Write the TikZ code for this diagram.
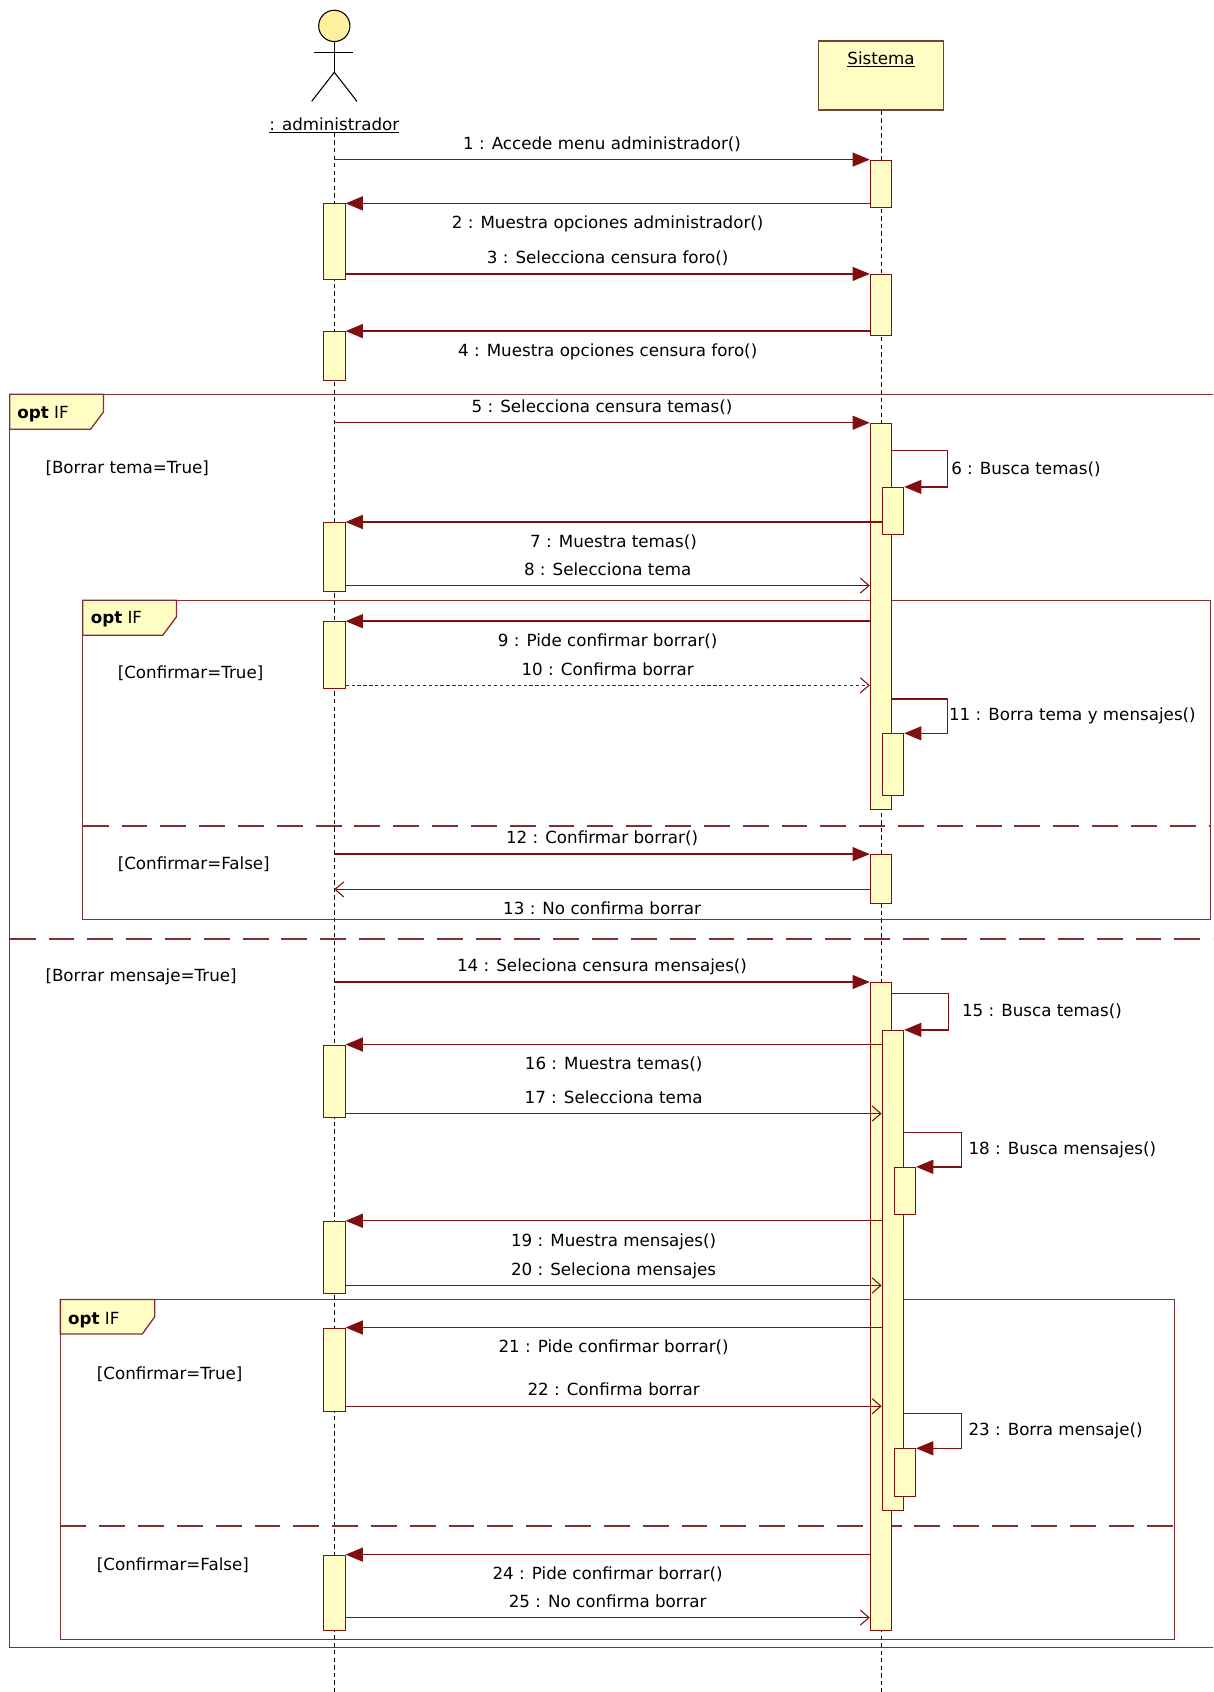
\documentclass[tikz,border=0pt]{standalone}
\usepackage{fontspec}
\setmainfont{DejaVu Sans}
\usetikzlibrary{arrows.meta}
\definecolor{umlred}{RGB}{128,16,16}
\definecolor{framered}{RGB}{128,48,48}
\definecolor{actfill}{RGB}{255,252,196}
\definecolor{headfill}{RGB}{255,240,160}
\definecolor{boxline}{RGB}{110,70,50}

\begin{document}
\begin{tikzpicture}[x=1pt, y=-1pt,
		every node/.style={font=\fontsize{15.5}{18}\selectfont, inner sep=0pt, text=black},
		lifeline/.style={black, line width=0.9pt, dash pattern=on 4pt off 3pt},
		actbar/.style={rectangle, draw=umlred, fill=actfill, line width=0.9pt, minimum width=20pt, anchor=north},
		fragbox/.style={draw=framered, line width=1.2pt},
		fragsep/.style={framered, line width=1.2pt, dash pattern=on 24pt off 12pt},
		tagbox/.style={draw=framered, fill=actfill, line width=1.2pt},
		callmsg/.style={umlred, line width=1.3pt, -{Triangle[length=16pt, width=13pt]}},
		replymsg/.style={umlred, line width=1.3pt, -{Straight Barb[length=8pt, width=14pt, line width=1pt]}},
		lblup/.style={midway, anchor=base, yshift=9.5pt, text=black},
		lbldown/.style={midway, anchor=base, yshift=-23.5pt, text=black},
		selflbl/.style={anchor=west, xshift=3pt, text=black},
		guard/.style={anchor=west}]
		
		\useasboundingbox (0,0) rectangle (1125,1569);
		\clip (0,0) rectangle (1125,1569);
		
		% Actor and object
		\node[circle, draw=black, fill=headfill, line width=1pt, minimum size=29pt] (head) at (310,24) {};
		\coordinate (hip) at (310,67);
		\draw[line width=1pt] (head.south) -- (hip);
		\draw[line width=1pt] (291,49) -- (327,49);
		\draw[line width=1pt] (289,94) -- (hip) -- (331,94);
		\node[] (adm) at (310,116) {\underline{: administrador}};
		\node[draw=boxline, fill=actfill, line width=1.2pt, minimum width=116pt, minimum height=64pt] (sis) at (817,70) {};
		\node[anchor=north] (sisname) at ([yshift=-10pt]sis.north) {\underline{Sistema}};
		
		% Lifelines
		\draw[lifeline] (adm.south) -- (adm |- 0,1569);
		\draw[lifeline] (sis.south) -- (sis |- 0,1569);
		
		% Fragments
		\draw[fragbox] (9,365.5) rectangle (1140,1527.5);
		\draw[tagbox] (9,365.5) -- (96,365.5) -- (96,382) -- (84,398) -- (9,398) -- cycle;
		\node[anchor=base west] at (16,388) {\textbf{opt} IF};
		\node[guard] at (42,434) {[Borrar tema=True]};
		\draw[fragsep] (9,870.7) -- (1140,870.7);
		\node[guard] at (42,906) {[Borrar mensaje=True]};
		
		\draw[fragbox] (76.7,556.6) rectangle (1122.6,852.6);
		\draw[tagbox] (76.7,556.6) -- (163.6,556.6) -- (163.6,572) -- (151,589) -- (76.7,589) -- cycle;
		\node[anchor=base west] at (84,578.5) {\textbf{opt} IF};
		\node[guard] at (109,624.5) {[Confirmar=True]};
		\draw[fragsep] (76.7,766) -- (1122.6,766);
		\node[guard] at (109,801.5) {[Confirmar=False]};
		
		\draw[fragbox] (56,1205) rectangle (1089,1520);
		\draw[tagbox] (56,1205) -- (143.5,1205) -- (143.5,1221) -- (132,1237) -- (56,1237) -- cycle;
		\node[anchor=base west] at (63,1228.5) {\textbf{opt} IF};
		\node[guard] at (89.7,1274) {[Confirmar=True]};
		\draw[fragsep] (56,1415) -- (1089,1415);
		\node[guard] at (89.7,1451.8) {[Confirmar=False]};
		
		% Activations
		\node[actbar, minimum height=44pt] (s1) at (817,148) {};
		\node[actbar, minimum height=57pt] (s2) at (817,254) {};
		\node[actbar, minimum height=358pt] (s3) at (817,392) {};
		\node[actbar, minimum height=44pt] (s4) at (828,451.5) {};
		\node[actbar, minimum height=57pt] (s5) at (828,680) {};
		\node[actbar, minimum height=45pt] (s6) at (817,792) {};
		\node[actbar, minimum height=601pt] (s7) at (817,910.6) {};
		\node[actbar, minimum height=445pt] (s8) at (828,955) {};
		\node[actbar, minimum height=44pt] (s9) at (839,1082) {};
		\node[actbar, minimum height=44pt] (s10) at (839,1343) {};
		\node[actbar, minimum height=70pt] (a1) at (310,188.6) {};
		\node[actbar, minimum height=45pt] (a2) at (310,307) {};
		\node[actbar, minimum height=64pt] (a3) at (310,484) {};
		\node[actbar, minimum height=62pt] (a4) at (310,576) {};
		\node[actbar, minimum height=67pt] (a5) at (310,968.6) {};
		\node[actbar, minimum height=67pt] (a6) at (310,1132) {};
		\node[actbar, minimum height=77pt] (a7) at (310,1231) {};
		\node[actbar, minimum height=70pt] (a8) at (310,1441.6) {};
		
		% Messages
		\draw[callmsg] (adm |- s1.north) -- node[lblup] {1 : Accede menu administrador()} (s1.north west);
		\draw[callmsg] (s1.west |- a1.north) -- node[lbldown] {2 : Muestra opciones administrador()} (a1.north east);
		\draw[callmsg] (a1.east |- s2.north) -- node[lblup] {3 : Selecciona censura foro()} (s2.north west);
		\draw[callmsg] (s2.west |- a2.north) -- node[lbldown] {4 : Muestra opciones censura foro()} (a2.north east);
		\draw[callmsg] (adm |- s3.north) -- node[lblup] {5 : Selecciona censura temas()} (s3.north west);
		\draw[callmsg] (s3.east |- 0,418) -- ++(51,0) -- node[selflbl] {6 : Busca temas()} ++(0,33.5) -- (s4.north east);
		\draw[callmsg] (s4.west |- a3.north) -- node[lbldown] {7 : Muestra temas()} (a3.north east);
		\draw[replymsg] (a3.east |- 0,543) -- node[lblup] {8 : Selecciona tema} (s3.west |- 0,543);
		\draw[callmsg] (s3.west |- a4.north) -- node[lbldown] {9 : Pide confirmar borrar()} (a4.north east);
		\draw[replymsg, dash pattern=on 3pt off 2.5pt] (a4.east |- 0,635.5) -- node[lblup] {10 : Confirma borrar} (s3.west |- 0,635.5);
		\draw[callmsg] (s3.east |- 0,648) -- ++(51,0) -- node[selflbl, xshift=-2pt] {11 : Borra tema y mensajes()} ++(0,32) -- (s5.north east);
		\draw[callmsg] (adm |- s6.north) -- node[lblup] {12 : Confirmar borrar()} (s6.north west);
		\draw[replymsg] (s6.west |- 0,824.7) -- node[lbldown] {13 : No confirma borrar} (adm |- 0,824.7);
		\draw[callmsg] (adm |- s7.north) -- node[lblup] {14 : Seleciona censura mensajes()} (s7.north west);
		\draw[callmsg] (s7.east |- 0,921) -- ++(52,0) -- node[selflbl, xshift=9pt] {15 : Busca temas()} ++(0,34) -- (s8.north east);
		\draw[callmsg] (s8.west |- a5.north) -- node[lbldown] {16 : Muestra temas()} (a5.north east);
		\draw[replymsg] (a5.east |- 0,1032.6) -- node[lblup] {17 : Selecciona tema} (s8.west |- 0,1032.6);
		\draw[callmsg] (s8.east |- 0,1050) -- ++(53,0) -- node[selflbl, xshift=3pt] {18 : Busca mensajes()} ++(0,32) -- (s9.north east);
		\draw[callmsg] (s8.west |- a6.north) -- node[lbldown] {19 : Muestra mensajes()} (a6.north east);
		\draw[replymsg] (a6.east |- 0,1192) -- node[lblup] {20 : Seleciona mensajes} (s8.west |- 0,1192);
		\draw[callmsg] (s8.west |- a7.north) -- node[lbldown] {21 : Pide confirmar borrar()} (a7.north east);
		\draw[replymsg] (a7.east |- 0,1304) -- node[lblup] {22 : Confirma borrar} (s8.west |- 0,1304);
		\draw[callmsg] (s8.east |- 0,1310.5) -- ++(53,0) -- node[selflbl, xshift=3pt] {23 : Borra mensaje()} ++(0,32.5) -- (s10.north east);
		\draw[callmsg] (s7.west |- a8.north) -- node[lbldown] {24 : Pide confirmar borrar()} (a8.north east);
		\draw[replymsg] (a8.east |- 0,1500) -- node[lblup] {25 : No confirma borrar} (s7.west |- 0,1500);
		
	\end{tikzpicture}
\end{document}
